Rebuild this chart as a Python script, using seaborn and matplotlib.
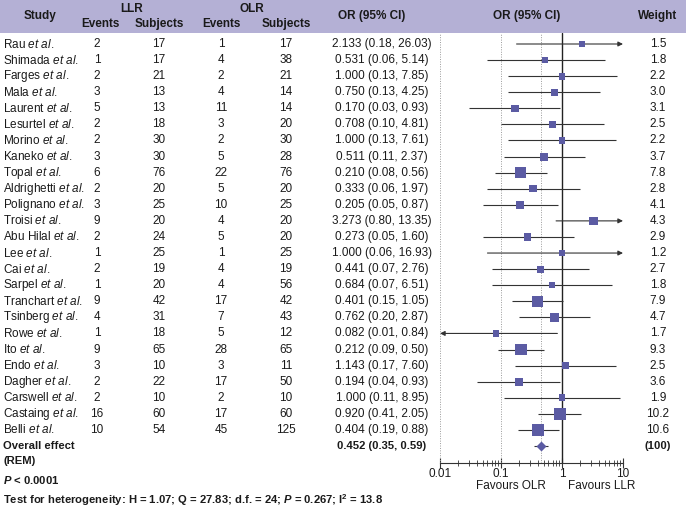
import numpy as np
import pandas as pd
import matplotlib.pyplot as plt
import seaborn as sns
from matplotlib.patches import Rectangle
from matplotlib.ticker import LogLocator, NullFormatter

# data
studies = ['Rau', 'Shimada', 'Farges', 'Mala', 'Laurent', 'Lesurtel', 'Morino', 'Kaneko',
           'Topal', 'Aldrighetti', 'Polignano', 'Troisi', 'Abu Hilal', 'Lee', 'Cai', 'Sarpel',
           'Tranchart', 'Tsinberg', 'Rowe', 'Ito', 'Endo', 'Dagher', 'Carswell', 'Castaing', 'Belli']
llr_events = [2, 1, 2, 3, 5, 2, 2, 3, 6, 2, 3, 9, 2, 1, 2, 1, 9, 4, 1, 9, 3, 2, 2, 16, 10]
llr_subjects = [17, 17, 21, 13, 13, 18, 30, 30, 76, 20, 25, 20, 24, 25, 19, 20, 42, 31, 18, 65, 10, 22, 10, 60, 54]
olr_events = [1, 4, 2, 4, 11, 3, 2, 5, 22, 5, 10, 4, 5, 1, 4, 4, 17, 7, 5, 28, 3, 17, 2, 17, 45]
olr_subjects = [17, 38, 21, 14, 14, 20, 30, 28, 76, 20, 25, 20, 20, 25, 19, 56, 42, 43, 12, 65, 11, 50, 10, 60, 125]
odds = [2.133, 0.531, 1.000, 0.750, 0.170, 0.708, 1.000, 0.511, 0.210, 0.333, 0.205, 3.273, 0.273,
        1.000, 0.441, 0.684, 0.401, 0.762, 0.082, 0.212, 1.143, 0.194, 1.000, 0.920, 0.404]
ci_low = [0.18, 0.06, 0.13, 0.13, 0.03, 0.10, 0.13, 0.11, 0.08, 0.06, 0.05, 0.80, 0.05,
          0.06, 0.07, 0.07, 0.15, 0.20, 0.01, 0.09, 0.17, 0.04, 0.11, 0.41, 0.19]
ci_high = [26.03, 5.14, 7.85, 4.25, 0.93, 4.81, 7.61, 2.37, 0.56, 1.97, 0.87, 13.35, 1.60,
           16.93, 2.76, 6.51, 1.05, 2.87, 0.84, 0.50, 7.60, 0.93, 8.95, 2.05, 0.88]
weights = [1.5, 1.8, 2.2, 3.0, 3.1, 2.5, 2.2, 3.7, 7.8, 2.8, 4.1, 4.3, 2.9, 1.2, 2.7, 1.8,
           7.9, 4.7, 1.7, 9.3, 2.5, 3.6, 1.9, 10.2, 10.6]
overall_or, overall_low, overall_high = 0.452, 0.35, 0.59
x_ticks = [0.01, 0.1, 1, 10]
x_tick_labels = ['0.01', '0.1', '1', '10']

df = pd.DataFrame({'study': studies, 'or_': odds, 'lo': ci_low, 'hi': ci_high, 'weight': weights})
df['row'] = np.arange(len(df))

sns.set_theme(style='white')
plt.rcParams['font.family'] = ['Liberation Sans', 'DejaVu Sans']
plt.rcParams['mathtext.fontset'] = 'custom'
plt.rcParams['mathtext.rm'] = 'Liberation Sans'
plt.rcParams['mathtext.it'] = 'Liberation Sans:italic'
plt.rcParams['mathtext.bf'] = 'Liberation Sans:bold'
plt.rcParams['mathtext.bfit'] = 'Liberation Sans:italic:bold'

W, H = 686, 508
fs = 8.5
txt = '#1a1a1a'
purple = '#b4b0d5'
mark = '#5b5ba3'

fig = plt.figure(figsize=(W / 100, H / 100), dpi=100)
bg = fig.add_axes([0, 0, 1, 1])
bg.set_xlim(0, W)
bg.set_ylim(H, 0)
bg.axis('off')
bg.add_patch(Rectangle((0, 0), W, 33, color=purple, lw=0))

# header
hk = dict(fontsize=fs, fontweight='bold', color=txt, va='center', ha='center')
bg.text(40, 16, 'Study', **hk)
bg.text(132, 9, 'LLR', **hk)
bg.text(252, 9, 'OLR', **hk)
for x, s in [(100, 'Events'), (159, 'Subjects'), (221, 'Events'), (286, 'Subjects')]:
    bg.text(x, 24, s, **hk)
bg.text(372, 16, 'OR (95% CI)', **hk)
bg.text(527, 16, 'OR (95% CI)', **hk)
bg.text(658, 16, 'Weight', **hk)

# table rows
row0, step = 44, 16.08
rk = dict(fontsize=fs, color=txt, va='center')
for i, s in enumerate(studies):
    y = row0 + step * i
    name = s.replace(' ', r'\ ')
    bg.text(3, y, r'$\mathrm{' + name + r'}\ \mathit{et\ al.}$', ha='left', **rk)
    bg.text(97, y, str(llr_events[i]), ha='center', **rk)
    bg.text(159, y, str(llr_subjects[i]), ha='center', **rk)
    bg.text(221, y, str(olr_events[i]), ha='center', **rk)
    bg.text(286, y, str(olr_subjects[i]), ha='center', **rk)
    bg.text(382, y, f'{odds[i]:.3f} ({ci_low[i]:.2f}, {ci_high[i]:.2f})', ha='center', **rk)
    bg.text(658, y, f'{weights[i]:.1f}', ha='center', **rk)

bk = dict(fontsize=8.1, color=txt, va='center', fontweight='bold')
yo = row0 + step * len(studies)
bg.text(3, yo, 'Overall effect', ha='left', **bk)
bg.text(3, yo + 15, '(REM)', ha='left', **bk)
bg.text(382, yo, f'{overall_or:.3f} ({overall_low:.2f}, {overall_high:.2f})', ha='center', **bk)
bg.text(658, yo, '(100)', ha='center', **bk)
bg.text(3, 480, r'$\mathbfit{P}$ < 0.0001', ha='left', **bk)
bg.text(3, 500, r'Test for heterogeneity: H = 1.07; Q = 27.83; d.f. = 24; $\mathbfit{P}$ = 0.267; I$^{\mathbf{2}}$ = 13.8',
        ha='left', **bk)
bg.text(511, 486, 'Favours OLR', ha='center', **rk)
bg.text(602, 486, 'Favours LLR', ha='center', **rk)

# forest panel
ax = fig.add_axes([440 / W, 1 - 463 / H, 183 / W, (463 - 33) / H])
ax.patch.set_alpha(0)
ax.set_xscale('log')

for v in [0.01, 0.1, overall_or, 10]:
    ax.axvline(v, color='#9a9a9a', lw=0.7, ls=(0, (1, 1.5)), zorder=1)
ax.axvline(1, color='#222222', lw=1.0, zorder=2)

lc = '#333333'
for _, r in df.iterrows():
    lo, hi = max(r.lo, 0.01), min(r.hi, 10)
    if r.hi > 10:
        ax.annotate('', xy=(10, r.row), xytext=(lo, r.row),
                    arrowprops=dict(arrowstyle='-|>', color=lc, lw=0.8, mutation_scale=7,
                                    shrinkA=0, shrinkB=0), zorder=2)
    elif r.lo <= 0.01:
        ax.annotate('', xy=(0.01, r.row), xytext=(hi, r.row),
                    arrowprops=dict(arrowstyle='-|>', color=lc, lw=0.8, mutation_scale=7,
                                    shrinkA=0, shrinkB=0), zorder=2)
    else:
        ax.hlines(r.row, lo, hi, color=lc, lw=0.8, zorder=2)

sns.scatterplot(data=df, x='or_', y='row', size='weight', sizes=(18, 75), marker='s',
                color=mark, edgecolor='none', linewidth=0, legend=False, ax=ax, zorder=3)

ov_row = len(studies)
ax.hlines(ov_row, overall_low, overall_high, color=lc, lw=0.8, zorder=2)
ax.plot([overall_or], [ov_row], marker='D', ms=5, color=mark, mec='none', zorder=3)

ax.set_xlim(0.01, 10)
ax.set_ylim((463 - row0) / step, (33 - row0) / step)
ax.set_xlabel('')
ax.set_ylabel('')
ax.set_yticks([])
ax.set_xticks(x_ticks)
ax.set_xticklabels(x_tick_labels)
ax.xaxis.set_minor_locator(LogLocator(base=10, subs=np.arange(2, 10)))
ax.xaxis.set_minor_formatter(NullFormatter())
ax.tick_params(axis='x', which='major', direction='inout', length=7, width=0.8,
               color='#333333', labelsize=fs, labelcolor=txt, pad=0, bottom=True)
ax.tick_params(axis='x', which='minor', direction='inout', length=5, width=0.6,
               color='#333333', bottom=True)
for side in ['top', 'left', 'right']:
    ax.spines[side].set_visible(False)
ax.spines['bottom'].set_color('#333333')
ax.spines['bottom'].set_linewidth(0.8)

fig.savefig('out.png', dpi=100)
